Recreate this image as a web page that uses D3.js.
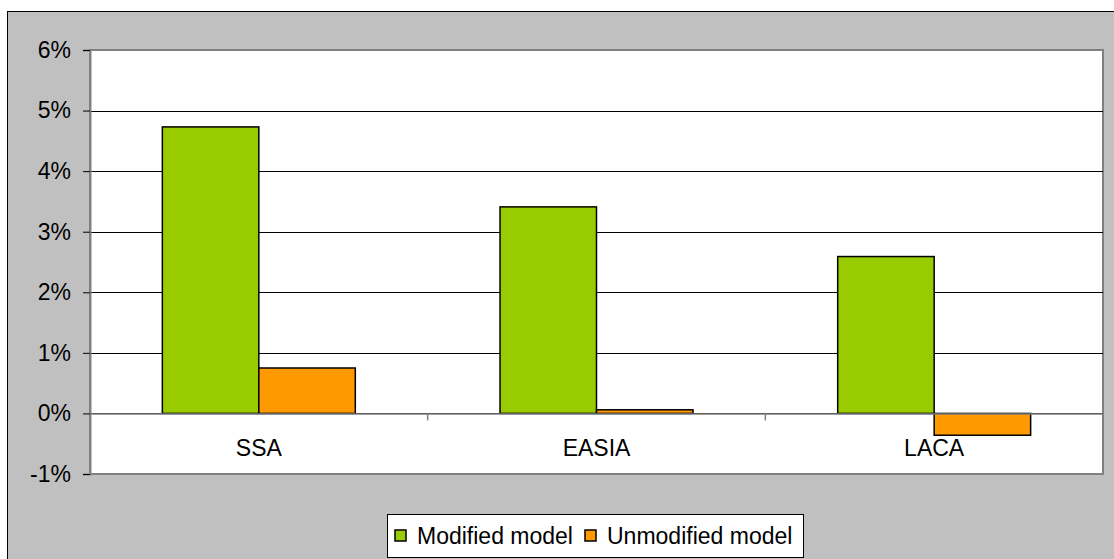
<!DOCTYPE html>
<html>
<head>
<meta charset="utf-8">
<script src="https://cdn.jsdelivr.net/npm/d3@7"></script>
<style>
  body { margin: 0; background: #fff; }
  svg { display: block; font-family: "Liberation Sans", Arial, sans-serif; }
</style>
</head>
<body>
<div id="chart"></div>
<script>
// data
const categories = ['SSA', 'EASIA', 'LACA'];
const seriesNames = ['Modified model', 'Unmodified model'];
const modified = [4.73, 3.41, 2.59];
const unmodified = [0.75, 0.06, -0.36];
const yTicks = [-1, 0, 1, 2, 3, 4, 5, 6];
const colors = ['#99cc00', '#ff9900'];

const width = 1114, height = 559;
const plot = { left: 90, right: 1103, top: 50, bottom: 474 };
const fontSize = 23;

const svg = d3.select('#chart').append('svg')
    .attr('width', width)
    .attr('height', height);

// outer chart area
svg.append('rect')
    .attr('x', 7.5).attr('y', 11.5)
    .attr('width', width + 10).attr('height', height + 10)
    .attr('fill', '#c0c0c0')
    .attr('stroke', '#000')
    .attr('stroke-width', 1);

// plot area
svg.append('rect')
    .attr('x', plot.left).attr('y', plot.top)
    .attr('width', plot.right - plot.left).attr('height', plot.bottom - plot.top)
    .attr('fill', '#fff')
    .attr('stroke', '#808080')
    .attr('stroke-width', 2);

const y = d3.scaleLinear().domain([-1, 6]).range([plot.bottom, plot.top]);
const x0 = d3.scaleBand().domain(categories).range([plot.left, plot.right]).paddingInner(0).paddingOuter(0);
const groupW = x0.bandwidth() * 2 / 3.5;
const x1 = d3.scaleBand().domain(seriesNames).range([0, groupW]);

// gridlines
svg.append('g')
    .selectAll('line')
    .data(yTicks.filter(d => d > -1 && d < 6))
    .enter().append('line')
    .attr('x1', plot.left).attr('x2', plot.right)
    .attr('y1', d => Math.round(y(d)) + 0.5).attr('y2', d => Math.round(y(d)) + 0.5)
    .attr('stroke', '#000')
    .attr('stroke-width', 1);

// y axis
const yAxis = svg.append('g')
    .attr('transform', `translate(${plot.left},0)`)
    .call(d3.axisLeft(y).tickValues(yTicks).tickFormat(d => d + '%').tickSize(7).tickPadding(12));
yAxis.attr('font-size', null).attr('font-family', null);
yAxis.select('.domain').attr('stroke', '#808080').attr('stroke-width', 2);
yAxis.selectAll('.tick line').attr('stroke', '#000');
yAxis.selectAll('.tick text')
    .style('font-size', fontSize + 'px')
    .attr('fill', '#000');

// bars
const rows = categories.map((c, i) => ({ cat: c, values: [modified[i], unmodified[i]] }));
const groups = svg.append('g')
    .selectAll('g')
    .data(rows)
    .enter().append('g')
    .attr('transform', d => `translate(${x0(d.cat) + (x0.bandwidth() - groupW) / 2},0)`);

groups.selectAll('rect')
    .data(d => d.values.map((v, j) => ({ v, name: seriesNames[j], j })))
    .enter().append('rect')
    .attr('x', d => x1(d.name))
    .attr('y', d => y(Math.max(0, d.v)))
    .attr('width', x1.bandwidth())
    .attr('height', d => Math.abs(y(d.v) - y(0)))
    .attr('fill', d => colors[d.j])
    .attr('stroke', '#000')
    .attr('stroke-width', 1.5);

// category axis at 0%
const xAxis = svg.append('g')
    .attr('transform', `translate(0,${Math.round(y(0)) + 0.5})`)
    .call(d3.axisBottom(x0).tickSize(0).tickPadding(26));
xAxis.attr('font-size', null).attr('font-family', null);
xAxis.select('.domain').attr('stroke', '#808080').attr('stroke-width', 1.5);
xAxis.selectAll('.tick text')
    .style('font-size', fontSize + 'px')
    .attr('fill', '#000');

// category boundary ticks
svg.append('g')
    .selectAll('line')
    .data(categories.slice(1).concat(['end']))
    .enter().append('line')
    .attr('x1', (d, i) => plot.left + x0.bandwidth() * (i + 1))
    .attr('x2', (d, i) => plot.left + x0.bandwidth() * (i + 1))
    .attr('y1', y(0)).attr('y2', y(0) + 7)
    .attr('stroke', '#808080')
    .attr('stroke-width', 1.5);

// legend
const legend = svg.append('g').attr('transform', 'translate(387,514)');
legend.append('rect')
    .attr('x', 0.5).attr('y', 0.5)
    .attr('width', 416).attr('height', 43)
    .attr('fill', '#fff')
    .attr('stroke', '#000')
    .attr('stroke-width', 1);

const legendX = [8, 198];
const items = legend.selectAll('g.item')
    .data(seriesNames)
    .enter().append('g')
    .attr('transform', (d, i) => `translate(${legendX[i]},0)`);
items.append('rect')
    .attr('x', 0).attr('y', 16)
    .attr('width', 11).attr('height', 11)
    .attr('fill', (d, i) => colors[i])
    .attr('stroke', '#000')
    .attr('stroke-width', 1.5);
items.append('text')
    .attr('x', 22).attr('y', 30)
    .style('font-size', fontSize + 'px')
    .attr('fill', '#000')
    .text(d => d);
</script>
</body>
</html>
